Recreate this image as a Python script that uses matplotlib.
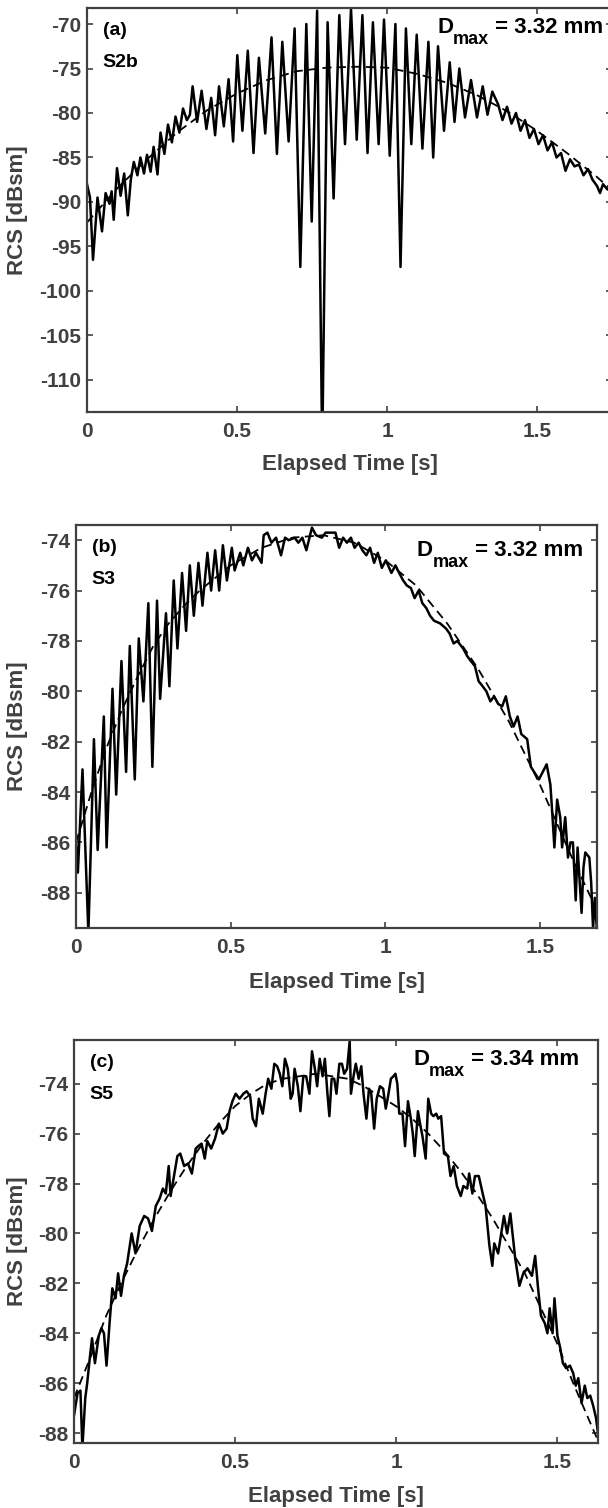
import numpy as np
import matplotlib
matplotlib.use("Agg")
import matplotlib.pyplot as plt

plt.rcParams['font.family'] = ['Liberation Sans', 'DejaVu Sans']
plt.rcParams['font.weight'] = 'bold'
plt.rcParams['axes.unicode_minus'] = False

# ---- panel (a): S2b ----
t_a = [0.000, 0.010, 0.020, 0.035, 0.050, 0.062, 0.075, 0.082, 0.089, 0.100,
       0.112, 0.124, 0.136, 0.146, 0.156, 0.168, 0.178, 0.190, 0.200, 0.212,
       0.222, 0.235, 0.245, 0.258, 0.270, 0.283, 0.295, 0.308, 0.320, 0.333,
       0.343,
       0.352, 0.367, 0.382, 0.398, 0.414, 0.427, 0.440, 0.456, 0.472, 0.487,
       0.501, 0.518, 0.536, 0.555, 0.573, 0.594, 0.615, 0.633, 0.651, 0.672,
       0.692, 0.711, 0.731, 0.749, 0.767, 0.784, 0.802, 0.822, 0.841, 0.860,
       0.880, 0.899, 0.918, 0.935, 0.953, 0.972, 0.990, 1.009, 1.028, 1.045,
       1.063, 1.081, 1.099, 1.118, 1.138, 1.154, 1.170, 1.190, 1.209, 1.225,
       1.241, 1.260, 1.280, 1.300, 1.319, 1.335, 1.351,
       1.370, 1.385, 1.400, 1.415, 1.430, 1.445, 1.460, 1.475, 1.490, 1.505,
       1.520, 1.535, 1.550, 1.565, 1.580, 1.595, 1.610, 1.625, 1.640, 1.655,
       1.670, 1.685, 1.700, 1.710, 1.720, 1.735, 1.750]
rcs_a = [-88.0, -89.5, -96.5, -89.5, -93.3, -89.0, -90.2, -88.8, -92.0, -86.2,
         -89.3, -86.8, -91.5, -87.5, -85.5, -87.0, -85.0, -86.8, -84.7, -86.6,
         -83.8, -86.9, -82.2, -84.6, -81.3, -83.3, -80.4, -82.2, -79.5, -80.8,
         -80.2,
         -77.0, -81.0, -77.5, -81.8, -78.3, -82.5, -77.0, -81.5, -76.2, -83.2,
         -73.5, -82.0, -73.0, -84.5, -73.8, -82.3, -71.5, -84.6, -72.0, -83.2,
         -70.5, -97.3, -70.0, -92.2, -68.5, -118.0, -69.8, -89.6, -69.0, -83.5,
         -68.3, -83.0, -69.0, -84.5, -69.8, -83.5, -69.5, -84.8, -70.0, -97.3,
         -70.5, -83.5, -71.2, -84.0, -72.0, -85.0, -72.5, -82.0, -74.3, -81.0,
         -75.0, -80.5, -76.3, -80.5, -77.0, -80.2, -77.6,
         -79.0, -80.8, -79.3, -81.2, -80.0, -82.0, -80.8, -82.8, -81.8, -83.5,
         -82.5, -84.2, -83.3, -85.0, -84.5, -86.5, -85.2, -86.0, -85.8, -87.0,
         -86.3, -87.5, -88.2, -89.0, -88.0, -88.6, -88.2]
tfit_a = [0.0, 0.1, 0.2, 0.3, 0.4, 0.5, 0.6, 0.7, 0.8, 0.9, 1.0, 1.1, 1.2,
          1.3, 1.4, 1.5, 1.6, 1.7, 1.75]
fit_a = [-92.3, -88.5, -85.2, -82.2, -79.7, -77.8, -76.3, -75.3, -74.9, -74.8,
         -74.9, -75.6, -76.6, -78.0, -79.8, -82.0, -84.5, -87.2, -88.7]

# ---- panel (b): S3 ----
t_b = [0.000, 0.006, 0.021, 0.040, 0.058, 0.070, 0.090, 0.099, 0.118, 0.130,
       0.147, 0.162, 0.174, 0.190, 0.203, 0.218, 0.234, 0.247, 0.262, 0.272,
       0.291, 0.302, 0.316, 0.328, 0.343, 0.356, 0.368, 0.381, 0.396, 0.409,
       0.425, 0.437, 0.450, 0.463, 0.475, 0.488, 0.504, 0.513, 0.531, 0.541,
       0.556, 0.569, 0.582, 0.600, 0.607,
       0.619, 0.632, 0.647, 0.663, 0.676, 0.688, 0.707, 0.719, 0.732, 0.745,
       0.763, 0.776, 0.795, 0.807, 0.826, 0.839, 0.851, 0.864, 0.876, 0.889,
       0.901, 0.914, 0.926, 0.939, 0.951, 0.964, 0.976, 0.989, 1.002, 1.020,
       1.033, 1.045, 1.058, 1.070, 1.083, 1.095, 1.108, 1.120, 1.133, 1.145,
       1.158, 1.177, 1.196, 1.208, 1.221, 1.233, 1.252, 1.265, 1.277, 1.290,
       1.302, 1.315, 1.327, 1.340, 1.352, 1.365, 1.378, 1.390, 1.403, 1.415,
       1.428, 1.440, 1.459, 1.471, 1.497, 1.522, 1.534, 1.540, 1.547, 1.556,
       1.566, 1.572, 1.582, 1.591, 1.599, 1.607, 1.616, 1.622, 1.628, 1.635,
       1.641, 1.647, 1.660, 1.666, 1.672, 1.678, 1.685]
rcs_b = [-85.9, -87.2, -83.1, -89.6, -81.9, -86.3, -81.0, -86.2, -79.9, -84.1,
         -78.8, -83.2, -78.2, -83.5, -77.9, -80.4, -76.5, -83.0, -76.4, -80.3,
         -76.9, -79.8, -75.6, -78.3, -75.3, -77.6, -75.0, -77.0, -74.9, -76.6,
         -74.5, -76.0, -74.4, -76.0, -74.2, -75.6, -74.3, -75.2, -74.5, -75.0,
         -74.3, -74.8, -74.5, -74.9, -73.8,
         -73.7, -74.1, -73.9, -74.6, -73.9, -74.0, -73.9, -74.1, -73.9, -74.4,
         -73.5, -73.8, -73.9, -73.7, -73.7, -73.7, -74.3, -73.9, -74.1, -73.9,
         -74.3, -74.1, -74.4, -74.6, -74.3, -74.9, -74.5, -75.1, -74.8, -75.3,
         -75.0, -75.3, -75.6, -75.8, -75.9, -76.3, -76.0, -76.5, -76.7, -77.0,
         -77.2, -77.3, -77.5, -77.7, -78.1, -78.0, -78.3, -78.6, -78.8, -79.0,
         -79.6, -79.8, -80.0, -80.4, -80.2, -80.5, -80.6, -80.2, -81.0, -81.4,
         -81.0, -81.7, -81.9, -83.0, -83.5, -82.9, -83.7, -84.8, -86.2, -84.3,
         -85.0, -86.2, -85.0, -86.6, -86.0, -86.0, -88.3, -86.2, -87.4, -88.8,
         -87.0, -86.4, -86.6, -87.6, -89.4, -88.2, -89.6]
tfit_b = [0.0, 0.05, 0.1, 0.15, 0.2, 0.25, 0.3, 0.35, 0.4, 0.45, 0.5, 0.6,
          0.7, 0.8, 0.9, 1.0, 1.1, 1.2, 1.3, 1.4, 1.5, 1.6, 1.685]
fit_b = [-86.0, -84.0, -82.2, -80.7, -79.4, -78.2, -77.3, -76.6, -76.0,
         -75.5, -75.0, -74.3, -73.9, -73.8, -74.1, -74.8, -75.8, -77.3, -79.1,
         -81.2, -83.7, -86.5, -88.7]

# ---- panel (c): S5 ----
t_c = [0.000, 0.011, 0.020, 0.026, 0.035, 0.041, 0.049, 0.056, 0.065, 0.077,
       0.085, 0.093, 0.101, 0.111, 0.119, 0.129, 0.137, 0.146, 0.155, 0.165,
       0.179, 0.191, 0.204, 0.218, 0.230, 0.242, 0.254, 0.266, 0.276, 0.285,
       0.294, 0.300, 0.312, 0.321, 0.330, 0.342, 0.354, 0.366, 0.378, 0.386,
       0.396, 0.406, 0.414, 0.426, 0.438, 0.450, 0.462, 0.474, 0.483, 0.492,
       0.502, 0.514, 0.526, 0.536, 0.547, 0.555, 0.565, 0.574, 0.586, 0.595,
       0.603, 0.613, 0.622, 0.631, 0.639, 0.647, 0.655, 0.664, 0.673, 0.679,
       0.685, 0.695, 0.703, 0.712, 0.721, 0.731, 0.739, 0.748, 0.755, 0.763,
       0.772, 0.779, 0.787, 0.793, 0.800, 0.808, 0.815, 0.824, 0.832, 0.839,
       0.848, 0.856, 0.860, 0.868, 0.875, 0.884, 0.892, 0.899, 0.908, 0.916,
       0.923, 0.932, 0.940, 0.950, 0.960, 0.968, 0.974, 0.984, 0.992, 0.998,
       1.004, 1.010, 1.020, 1.028, 1.037, 1.046, 1.052, 1.058, 1.068, 1.076,
       1.082, 1.092, 1.100, 1.109, 1.116, 1.125, 1.131, 1.140, 1.149, 1.161,
       1.169, 1.179, 1.189, 1.201, 1.209, 1.221, 1.227, 1.237, 1.245, 1.257,
       1.269, 1.278, 1.290, 1.299, 1.305, 1.317, 1.335, 1.345, 1.355, 1.370,
       1.383, 1.395, 1.408, 1.422, 1.432, 1.441, 1.450, 1.462, 1.470, 1.477,
       1.486, 1.492, 1.501, 1.510, 1.518, 1.528, 1.540, 1.550, 1.558, 1.566,
       1.576, 1.586, 1.594, 1.603, 1.612, 1.621, 1.627]
rcs_c = [-87.3, -86.4, -86.3, -88.6, -86.6, -86.0, -85.0, -84.2, -85.2, -84.1,
         -83.8, -84.0, -85.3, -83.5, -82.2, -82.6, -81.6, -82.5, -81.7, -81.2,
         -80.0, -80.8, -79.7, -79.3, -79.4, -79.9, -78.9, -78.6, -78.2, -78.4,
         -77.3, -78.5, -77.6, -76.9, -76.8, -77.3, -77.2, -77.6, -76.6, -76.5,
         -76.4, -77.0, -76.3, -76.6, -76.2, -75.6, -76.0, -75.8, -75.1, -74.7,
         -74.4, -74.6, -74.4, -74.3, -74.5, -75.4, -75.7, -74.6, -75.2, -74.4,
         -73.8, -74.2, -73.2, -73.3, -73.6, -74.1, -73.0, -73.4, -74.6, -74.4,
         -73.4, -74.1, -75.1, -73.7, -73.7, -74.4, -72.7, -73.4, -74.1, -73.0,
         -73.7, -73.0, -74.4, -75.3, -73.8, -73.8, -74.4, -73.2, -73.2, -73.6,
         -73.4, -72.3, -74.4, -73.7, -73.2, -73.8, -73.3, -74.4, -75.4, -74.2,
         -74.4, -75.8, -74.6, -74.1, -74.2, -75.0, -74.6, -73.8, -73.7, -73.6,
         -74.0, -75.2, -75.2, -76.5, -74.7, -75.4, -76.0, -76.9, -75.1, -75.7,
         -76.1, -77.0, -74.6, -75.2, -75.3, -75.2, -75.4, -75.3, -76.8, -76.9,
         -77.7, -77.3, -78.1, -78.5, -78.1, -78.2, -77.6, -78.4, -77.7, -77.7,
         -78.4, -78.9, -80.5, -81.3, -80.4, -80.8, -79.3, -80.0, -79.2, -81.0,
         -82.1, -81.6, -81.4, -81.7, -80.9, -82.2, -83.3, -83.6, -84.0, -83.0,
         -84.0, -82.6, -84.1, -84.6, -85.2, -85.4, -85.3, -85.6, -86.1, -85.8,
         -86.8, -86.1, -86.6, -86.5, -86.9, -87.4, -88.0]
tfit_c = [0.0, 0.05, 0.1, 0.15, 0.2, 0.25, 0.3, 0.35, 0.4, 0.45, 0.5, 0.55,
          0.6, 0.65, 0.7, 0.75, 0.8, 0.85, 0.9, 0.95, 1.0, 1.05, 1.1, 1.15,
          1.2, 1.25, 1.3, 1.35, 1.4, 1.45, 1.5, 1.55, 1.6, 1.627]
fit_c = [-86.6, -85.0, -83.3, -81.9, -80.6, -79.4, -78.3, -77.3, -76.4,
         -75.6, -74.9, -74.4, -74.0, -73.8, -73.7, -73.6, -73.7, -73.8, -74.1,
         -74.5, -74.9, -75.4, -76.0, -76.7, -77.5, -78.4, -79.4, -80.5, -81.6,
         -83.0, -84.4, -86.0, -87.5, -88.3]

xticks = [0, 0.5, 1, 1.5]
xticklabels = ['0', '0.5', '1', '1.5']

panels = [
    # rect, xlim, ylim, yticks, letter, sample, dmax, data, ylabel x, xlabel y, D pos
    ([0.1431, 0.7268, 0.8635, 0.2679], (0, 1.75), (-113.6, -68.2),
     np.arange(-110, -69, 5), '(a)', 'S2b', '3.32', t_a, rcs_a, tfit_a, fit_a,
     -0.112, -0.104, (0.667, 0.939)),
    ([0.1250, 0.3846, 0.8570, 0.2672], (0, 1.685), (-89.4, -73.4),
     np.arange(-88, -73, 2), '(b)', 'S3', '3.32', t_b, rcs_b, tfit_b, fit_b,
     -0.092, -0.109, (0.654, 0.924)),
    ([0.1217, 0.0431, 0.8618, 0.2672], (0, 1.627), (-88.4, -72.25),
     np.arange(-88, -73, 2), '(c)', 'S5', '3.34', t_c, rcs_c, tfit_c, fit_c,
     -0.088, -0.106, (0.647, 0.939)),
]

gray = '#404040'
fig = plt.figure(figsize=(6.08, 15.08), dpi=100)

for rect, xl, yl, yt, letter, sample, dmax, t, r, tf, f, ylx, xly, dpos in panels:
    ax = fig.add_axes(rect)
    ax.plot(t, r, 'k-', lw=1.8)
    ax.plot(tf, f, 'k--', lw=1.3, dashes=(5, 3))
    ax.set_xlim(*xl)
    ax.set_ylim(*yl)
    ax.set_xticks(xticks)
    ax.set_xticklabels(xticklabels)
    ax.set_yticks(yt)
    ax.tick_params(direction='in', top=True, right=True, length=4, width=1.2,
                   color=gray, labelcolor=gray, labelsize=15)
    ax.tick_params(axis='x', pad=7)
    ax.tick_params(axis='y', pad=4)
    for sp in ax.spines.values():
        sp.set_color(gray)
        sp.set_linewidth(1.6)
    ax.set_xlabel('Elapsed Time [s]', fontsize=16, fontweight='bold', color=gray)
    ax.set_ylabel('RCS [dBsm]', fontsize=16, fontweight='bold', color=gray)
    ax.xaxis.set_label_coords(0.5, xly)
    ax.yaxis.set_label_coords(ylx, 0.5)
    ax.text(0.03, 0.945, letter, transform=ax.transAxes, fontsize=14,
            fontweight='bold', va='center', ha='left')
    ax.text(0.03, 0.865, sample, transform=ax.transAxes, fontsize=14,
            fontweight='bold', va='center', ha='left')
    # D_max label built from pieces so the subscript sits low like the original
    tD = ax.text(dpos[0], dpos[1], 'D', transform=ax.transAxes, fontsize=16,
                 fontweight='bold', va='baseline', ha='left')
    tm = ax.annotate('max', xy=(1, 0), xycoords=tD, xytext=(0, -7.5),
                     textcoords='offset points', fontsize=13,
                     fontweight='bold', va='bottom', ha='left')
    ax.annotate(' = ' + dmax + ' mm', xy=(1, 0), xycoords=(tm, tD),
                xytext=(0, 0), textcoords='offset points', fontsize=16,
                fontweight='bold', va='bottom', ha='left')

fig.savefig('out.png', dpi=100)
